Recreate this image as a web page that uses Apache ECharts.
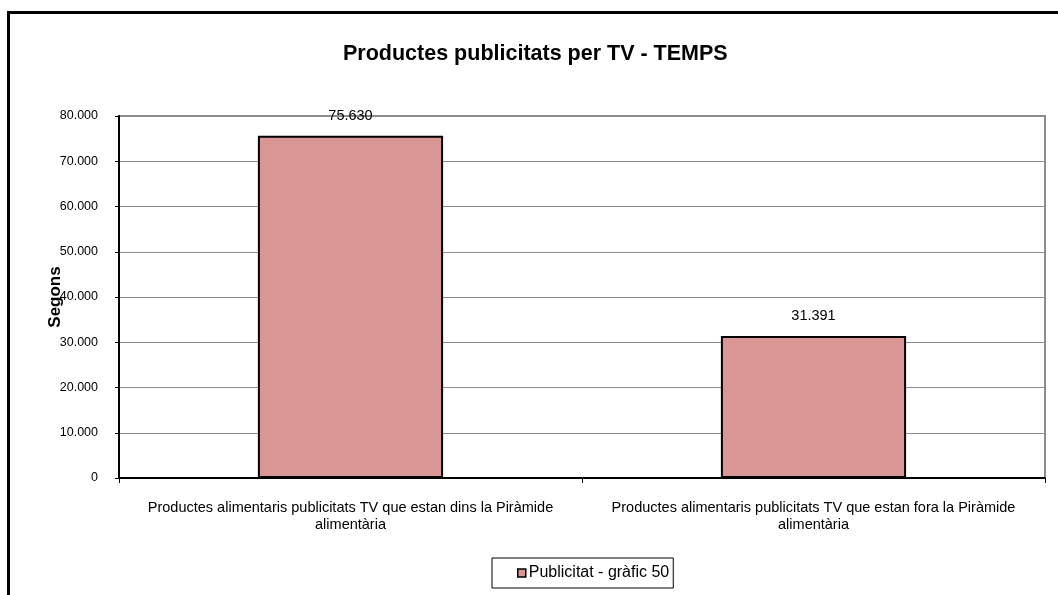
<!DOCTYPE html>
<html>
<head>
<meta charset="utf-8">
<script src="https://cdn.jsdelivr.net/npm/echarts@6/dist/echarts.min.js"></script>
<style>
html,body{margin:0;padding:0;background:#fff;}
#chart{width:1058px;height:595px;}
</style>
</head>
<body>
<div id="chart"></div>
<script>
const titleText = 'Productes publicitats per TV - TEMPS';
const categories = [
  'Productes alimentaris publicitats TV que estan dins la Piràmide alimentària',
  'Productes alimentaris publicitats TV que estan fora la Piràmide alimentària'
];
const seriesName = 'Publicitat - gràfic 50';
const values = [75630, 31391];
const yAxisName = 'Segons';
const yMin = 0, yMax = 80000, yInterval = 10000;

function fmt(v){
  return String(Math.round(v)).replace(/\B(?=(\d{3})+(?!\d))/g, '.');
}

const chart = echarts.init(document.getElementById('chart'), null, {renderer:'canvas'});
const F = 'Arial, "Liberation Sans", sans-serif';
chart.setOption({
  backgroundColor:'#ffffff',
  animation:false,
  graphic:[{
    type:'rect', silent:true, z:-1,
    shape:{x:8.5, y:12.5, width:1200, height:800},
    style:{fill:'none', stroke:'#000', lineWidth:3}
  }],
  title:{
    text:titleText, left:338, top:38,
    textStyle:{fontFamily:F, fontSize:21.5, fontWeight:'bold', color:'#000'}
  },
  legend:{
    bottom:7, left:492,
    itemWidth:8, itemHeight:8,
    padding:[7,4,7,25],
    borderColor:'#000', borderWidth:1,
    textStyle:{fontFamily:F, fontSize:16, color:'#000', padding:[0,0,0,-2]},
    icon:'rect',
    data:[{name:seriesName, itemStyle:{borderColor:'#000', borderWidth:1.5}}]
  },
  grid:{
    left:119, top:116, width:926, height:362,
    show:true, borderColor:'#8c8c8c', borderWidth:2, backgroundColor:'#fff'
  },
  xAxis:{
    type:'category', data:categories,
    axisLine:{lineStyle:{color:'#000', width:2}},
    axisTick:{show:true, length:5, lineStyle:{color:'#000'}},
    axisLabel:{
      fontFamily:F, fontSize:14.5, color:'#000', margin:21, lineHeight:17,
      interval:0,
      formatter:function(v){ return v.replace(/ (\S+)$/, '\n$1'); }
    }
  },
  yAxis:{
    type:'value', min:yMin, max:yMax, interval:yInterval,
    name:yAxisName, nameLocation:'middle', nameGap:55, nameRotate:90,
    nameMoveOverlap:false,
    nameTextStyle:{fontFamily:F, fontSize:17, fontWeight:'bold', color:'#000'},
    axisLine:{show:true, lineStyle:{color:'#000', width:2}},
    axisTick:{show:true, length:4, lineStyle:{color:'#000'}},
    axisLabel:{fontFamily:F, fontSize:12.5, color:'#000', margin:21, formatter:fmt},
    splitLine:{lineStyle:{color:'#8c8c8c', width:1}}
  },
  series:[{
    name:seriesName, type:'bar', data:values, barWidth:'40%',
    itemStyle:{color:'#d99694', borderColor:'#000', borderWidth:2},
    label:{
      show:true, position:'top', distance:12,
      fontFamily:F, fontSize:14.5, color:'#000',
      formatter:function(p){ return fmt(p.value); }
    }
  }]
});
</script>
</body>
</html>
